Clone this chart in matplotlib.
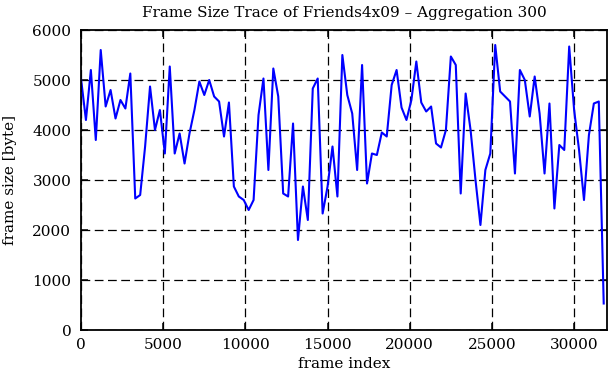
import numpy as np
import matplotlib
matplotlib.use("Agg")
import matplotlib.pyplot as plt

# Frame size trace, one value per aggregation window of 300 frames
size = [5030, 4200, 5200, 3800, 5600, 4470, 4800, 4230, 4600, 4430, 5130, 2630, 2700, 3670, 4870, 4000, 4400, 3530,
        5270, 3530, 3930, 3330, 3930, 4400, 4970, 4700, 5000, 4670, 4570, 3870, 4550, 2870, 2670, 2600,
        2400, 2600, 4300, 5030, 3200, 5230, 4670, 2730, 2670, 4130, 1800, 2870, 2200, 4830, 5030, 2330, 2870, 3670, 2670,
        5500, 4700, 4330, 3200, 5300, 2930, 3530, 3500, 3950, 3870, 4900, 5200, 4450, 4200, 4600, 5370, 4550, 4370,
        4470, 3730, 3650, 4000, 5470, 5300, 2730, 4730, 4000, 3000, 2100, 3200, 3530, 5700, 4770, 4670, 4570,
        3130, 5200, 5000, 4270, 5070, 4330, 3130, 4530, 2430, 3700, 3600, 5670, 4400, 3600, 2600, 3900, 4530, 4570, 530]
aggregation = 300
frame = np.arange(len(size)) * aggregation

xticks = [0, 5000, 10000, 15000, 20000, 25000, 30000]
yticks = [0, 1000, 2000, 3000, 4000, 5000, 6000]

plt.rcParams['font.family'] = ['DejaVu Serif']

fig = plt.figure(figsize=(6.11, 3.80), dpi=100)
ax = fig.add_axes([81 / 611, 1 - 330 / 380, (607 - 81) / 611, (330 - 30) / 380])

ax.plot(frame, size, color='#0000ff', linewidth=1.5)

ax.set_xlim(0, 32000)
ax.set_ylim(0, 6000)
ax.set_xticks(xticks)
ax.set_yticks(yticks)
ax.grid(True, color='black', linestyle=(0, (7, 3.6)), linewidth=0.9)
ax.tick_params(direction='in', length=5, width=1.1, top=True, right=True, labelsize=11)
ax.tick_params(axis='y', pad=7)
ax.tick_params(axis='x', pad=6)
for s in ax.spines.values():
    s.set_linewidth(1.3)

ax.set_title('Frame Size Trace of Friends4x09 – Aggregation 300', fontsize=11, pad=9)
ax.set_xlabel('frame index', fontsize=11, labelpad=3)
ax.set_ylabel('frame size [byte]', fontsize=11, labelpad=11)

fig.savefig('out.png', dpi=100)
